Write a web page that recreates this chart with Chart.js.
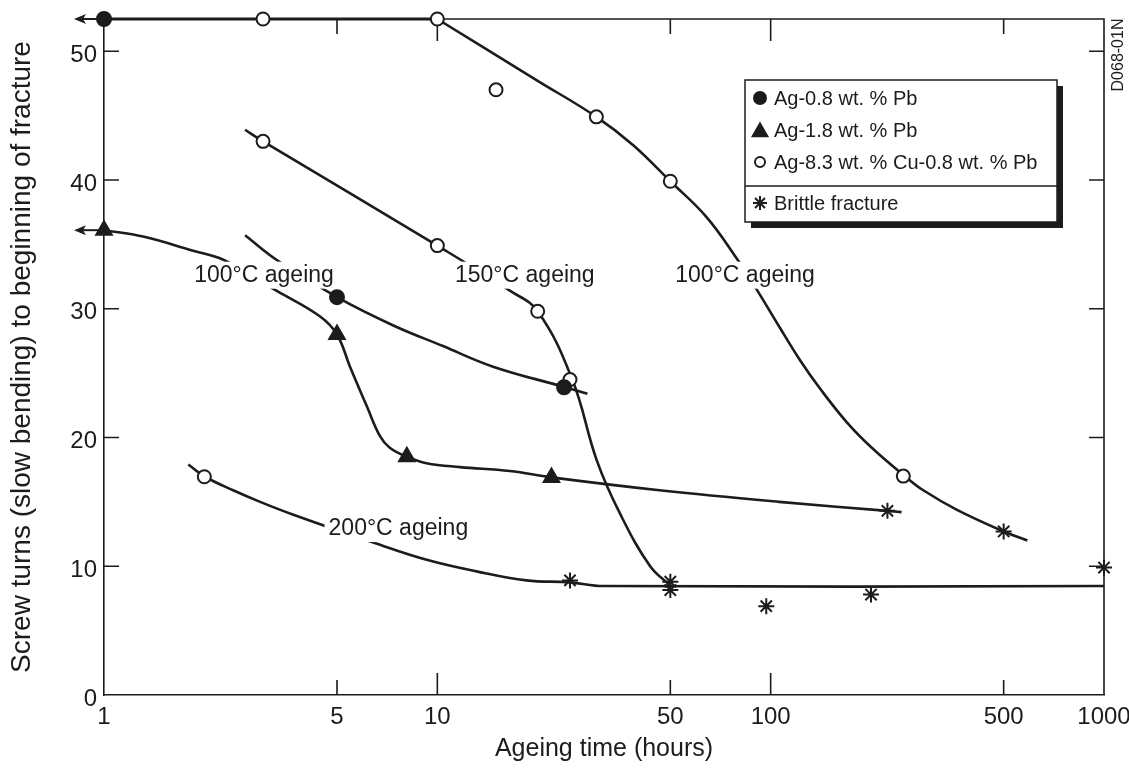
<!DOCTYPE html>
<html lang="en">
<head>
<meta charset="UTF-8">
<title>Screw turns vs ageing time</title>
<script src="https://cdn.jsdelivr.net/npm/chart.js@4.4.0/dist/chart.umd.min.js"></script>
<style>
  html, body { margin: 0; padding: 0; background: #fff; }
  #wrap { width: 1129px; height: 769px; }
</style>
</head>
<body>
<div id="wrap"><canvas id="ageingChart" width="1129" height="769"></canvas></div>
<script>
// axis ticks
const xTicks = [1, 5, 10, 50, 100, 500, 1000];
const yTicks = [0, 10, 20, 30, 40, 50];

// series names (legend)
const seriesNames = ['Ag-0.8 wt. % Pb', 'Ag-1.8 wt. % Pb', 'Ag-8.3 wt. % Cu-0.8 wt. % Pb', 'Brittle fracture'];

// measured points
const pb08X = [1, 5, 24];
const pb08Y = [52.5, 30.9, 23.9];
const pb18X = [1, 5, 8.1, 22];
const pb18Y = [36.1, 28, 18.5, 16.9];
const cuX = [3, 10, 15, 30, 50, 250, 3, 10, 20, 25, 2];
const cuY = [52.5, 52.5, 47, 44.9, 39.9, 17, 43, 34.9, 29.8, 24.5, 16.95];
const brittleX = [25, 50, 50, 97, 200, 224, 500, 1000];
const brittleY = [8.9, 8.8, 8.15, 6.9, 7.8, 14.3, 12.7, 9.9];

// fitted curves
const topLineX = [1, 10];
const topLineY = [52.5, 52.5];
const cu100X = [10, 20, 30, 38.7, 50, 64.3, 79.1, 89.8, 106.7, 122.5, 140.6, 169, 203, 254, 287, 361, 500, 589];
const cu100Y = [52.5, 47.7, 44.9, 42.7, 39.9, 37.1, 33.9, 31.7, 28.5, 26.0, 23.8, 21.2, 19.1, 16.95, 15.9, 14.4, 12.7, 12.0];
const cu150X = [2.65, 3, 10, 16.5, 20, 25.4, 30.1, 35.3, 43.5, 50];
const cu150Y = [43.9, 43, 34.9, 31.4, 29.8, 24.5, 18.2, 14.1, 10.0, 8.5];
const cu200X = [1.79, 2.01, 2.44, 2.94, 3.7, 6.49, 9.29, 13.1, 18.5, 25, 31.5, 1000];
const cu200Y = [17.9, 16.95, 15.9, 15.0, 14.0, 11.8, 10.5, 9.6, 8.9, 8.75, 8.46, 8.46];
const pb18CurveX = [1, 1.31, 1.85, 2.28, 3.29, 4.45, 5, 5.47, 6.15, 6.73, 7.2, 8.1, 9.28, 11.7, 16.5, 22, 46.4, 106, 224, 247];
const pb18CurveY = [36.1, 35.6, 34.5, 33.8, 31.4, 29.4, 28, 25.5, 22.4, 20.1, 19.2, 18.5, 18.0, 17.7, 17.4, 16.9, 15.9, 15.0, 14.3, 14.2];
const pb08CurveX = [2.65, 3.29, 5, 7.38, 10.4, 14.7, 24.2, 28.2];
const pb08CurveY = [35.7, 33.8, 30.9, 28.7, 27.1, 25.5, 23.9, 23.4];

// curve labels (text, x value, baseline y value)
const labelText = ['100°C ageing', '150°C ageing', '100°C ageing', '200°C ageing'];
const labelX = [3.02, 18.3, 83.8, 7.64];
const labelY = [32.1, 32.1, 32.1, 12.42];

const INK = '#1c1c1c';
const FONT = "'Liberation Sans', Arial, Helvetica, sans-serif";

const toPts = (xs, ys) => xs.map((v, i) => ({ x: v, y: ys[i] }));

function curve(xs, ys, width) {
    return {
        data: toPts(xs, ys),
        showLine: true,
        pointRadius: 0,
        pointHoverRadius: 0,
        borderColor: INK,
        borderWidth: width || 2.6,
        tension: 0.4,
        clip: false,
        order: 5
    };
}

function markers(xs, ys, style, radius, fill, order) {
    return {
        data: toPts(xs, ys),
        showLine: false,
        pointStyle: style,
        pointRadius: radius,
        pointHoverRadius: radius,
        pointBackgroundColor: fill,
        pointBorderColor: INK,
        pointBorderWidth: 2,
        clip: false,
        order: order
    };
}

const topLine = curve(topLineX, topLineY, 3.2);
topLine.tension = 0;

const datasets = [
    topLine,
    curve(cu100X, cu100Y),
    curve(cu150X, cu150Y),
    curve(cu200X, cu200Y),
    curve(pb18CurveX, pb18CurveY),
    curve(pb08CurveX, pb08CurveY),
    markers(cuX, cuY, 'circle', 6.5, '#fff', 4),
    markers(brittleX, brittleY, 'star', 8, INK, 3),
    markers(pb18X, pb18Y, 'triangle', 9, INK, 2),
    markers(pb08X, pb08Y, 'circle', 7, INK, 1)
];

// frame, inward ticks, labels, arrows, legend
const decorPlugin = {
    id: 'decor',
    beforeDatasetsDraw(chart) {
        const { ctx, chartArea: a, scales: { x, y } } = chart;
        ctx.save();
        ctx.strokeStyle = INK;
        ctx.lineWidth = 1.6;
        ctx.beginPath();
        ctx.moveTo(a.left, a.top);
        ctx.lineTo(a.right, a.top);
        ctx.lineTo(a.right, a.bottom);
        ctx.stroke();

        ctx.beginPath();
        xTicks.slice(1, -1).forEach(v => {
            const px = x.getPixelForValue(v);
            const len = (v === 10 || v === 100) ? 22 : 15;
            ctx.moveTo(px, a.bottom); ctx.lineTo(px, a.bottom - len);
            ctx.moveTo(px, a.top); ctx.lineTo(px, a.top + len);
        });
        yTicks.slice(1).forEach(v => {
            const py = y.getPixelForValue(v);
            ctx.moveTo(a.left, py); ctx.lineTo(a.left + 15, py);
            ctx.moveTo(a.right, py); ctx.lineTo(a.right - 15, py);
        });
        ctx.stroke();
        ctx.restore();
    },
    afterDatasetsDraw(chart) {
        const { ctx, scales: { x, y } } = chart;
        ctx.save();

        // curve labels with a white knock-out behind them
        ctx.font = '23px ' + FONT;
        ctx.textAlign = 'center';
        ctx.textBaseline = 'alphabetic';
        labelText.forEach((t, i) => {
            const px = x.getPixelForValue(labelX[i]);
            const py = y.getPixelForValue(labelY[i]);
            const w = ctx.measureText(t).width;
            ctx.fillStyle = '#fff';
            ctx.fillRect(px - w / 2 - 4, py - 20, w + 8, 27);
            ctx.fillStyle = INK;
            ctx.fillText(t, px, py);
        });

        // arrows at x = 1 (values continue beyond the axis)
        ctx.strokeStyle = INK;
        ctx.fillStyle = INK;
        ctx.lineWidth = 2;
        [pb08Y[0], pb18Y[0]].forEach(v => {
            const px = x.getPixelForValue(pb08X[0]);
            const py = y.getPixelForValue(v);
            ctx.beginPath();
            ctx.moveTo(px, py);
            ctx.lineTo(px - 26, py);
            ctx.stroke();
            ctx.beginPath();
            ctx.moveTo(px - 30, py);
            ctx.lineTo(px - 18, py - 5);
            ctx.lineTo(px - 21, py);
            ctx.lineTo(px - 18, py + 5);
            ctx.closePath();
            ctx.fill();
        });

        // legend box with drop shadow
        const L = 745, T = 80, W = 312, H = 142;
        ctx.fillStyle = INK;
        ctx.fillRect(L + 6, T + 6, W, H);
        ctx.fillStyle = '#fff';
        ctx.fillRect(L, T, W, H);
        ctx.lineWidth = 1.5;
        ctx.strokeRect(L, T, W, H);
        ctx.beginPath();
        ctx.moveTo(L, T + 106);
        ctx.lineTo(L + W, T + 106);
        ctx.stroke();

        const rows = [18, 50, 82, 123];
        const styles = [
            { pointStyle: 'circle', radius: 6, fill: INK },
            { pointStyle: 'triangle', radius: 8.5, fill: INK },
            { pointStyle: 'circle', radius: 5, fill: '#fff' },
            { pointStyle: 'star', radius: 7, fill: INK }
        ];
        ctx.font = '20px ' + FONT;
        ctx.textAlign = 'left';
        ctx.textBaseline = 'middle';
        seriesNames.forEach((name, i) => {
            const cy = T + rows[i];
            ctx.fillStyle = styles[i].fill;
            ctx.strokeStyle = INK;
            ctx.lineWidth = 2;
            Chart.helpers.drawPoint(ctx, { pointStyle: styles[i].pointStyle, radius: styles[i].radius, borderWidth: 2, rotation: 0 }, L + 15, cy + (styles[i].pointStyle === 'triangle' ? 2 : 0));
            ctx.fillStyle = INK;
            ctx.fillText(name, L + 29, cy + 1);
        });

        // figure code on the right edge
        ctx.save();
        ctx.translate(1119, 55);
        ctx.rotate(-Math.PI / 2);
        ctx.font = '16px ' + FONT;
        ctx.textAlign = 'center';
        ctx.fillStyle = INK;
        ctx.fillText('D068-01N', 0, 0);
        ctx.restore();

        ctx.restore();
    }
};

new Chart(document.getElementById('ageingChart'), {
    type: 'scatter',
    data: { datasets: datasets },
    options: {
        responsive: false,
        animation: false,
        events: [],
        layout: { padding: { top: 19, right: 25, left: 0, bottom: 0 } },
        plugins: { legend: { display: false }, tooltip: { enabled: false } },
        scales: {
            x: {
                type: 'logarithmic',
                min: 1,
                max: 1000,
                afterBuildTicks: (s) => { s.ticks = xTicks.map(v => ({ value: v })); },
                afterFit: (s) => { s.height = 74; s.paddingLeft = 0; s.paddingRight = 0; },
                grid: { display: false, drawTicks: false },
                border: { display: true, color: INK, width: 1.6 },
                ticks: {
                    autoSkip: false,
                    maxRotation: 0,
                    padding: 8,
                    color: INK,
                    font: { family: FONT, size: 24 },
                    callback: (v) => String(v)
                },
                title: {
                    display: true,
                    text: 'Ageing time (hours)',
                    color: INK,
                    font: { family: FONT, size: 25 },
                    padding: { top: 0, bottom: 5 }
                }
            },
            y: {
                type: 'linear',
                min: 0,
                max: 52.5,
                afterBuildTicks: (s) => { s.ticks = yTicks.map(v => ({ value: v })); },
                afterFit: (s) => { s.width = 104; s.paddingTop = 0; s.paddingBottom = 0; },
                grid: { display: false, drawTicks: false },
                border: { display: true, color: INK, width: 1.6 },
                ticks: {
                    padding: 7,
                    labelOffset: 4,
                    color: INK,
                    font: { family: FONT, size: 24 }
                },
                title: {
                    display: true,
                    text: 'Screw turns (slow bending) to beginning of fracture',
                    color: INK,
                    font: { family: FONT, size: 28 },
                    padding: { top: 5, bottom: 0 }
                }
            }
        }
    },
    plugins: [decorPlugin]
});
</script>
</body>
</html>
